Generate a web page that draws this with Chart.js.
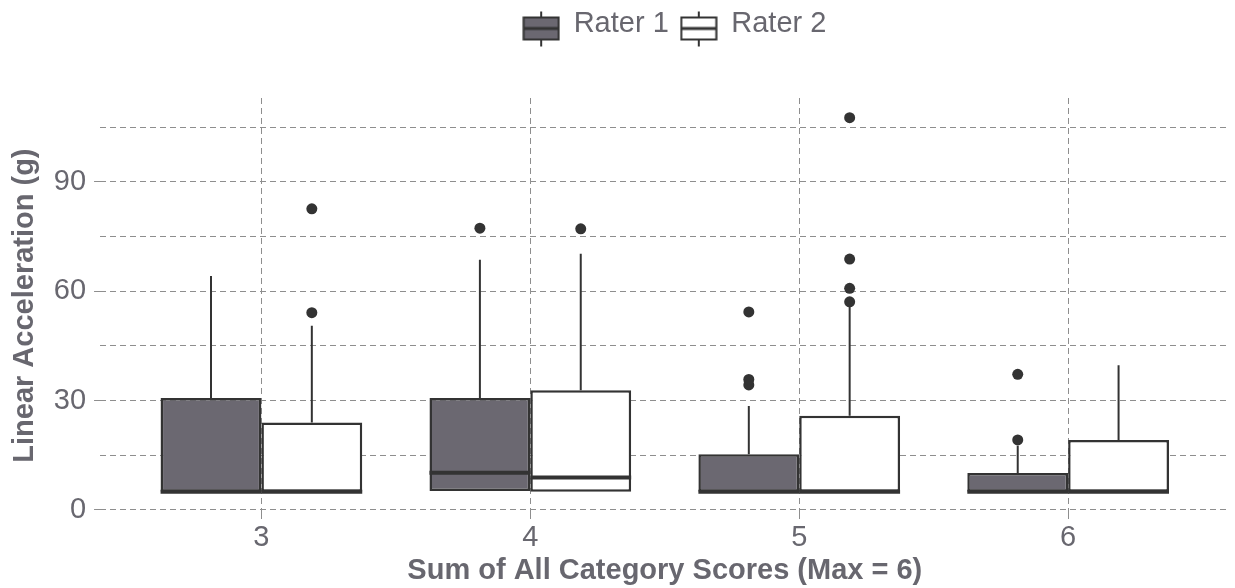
<!DOCTYPE html>
<html>
<head>
<meta charset="utf-8">
<script src="https://cdn.jsdelivr.net/npm/chart.js@4.4.1/dist/chart.umd.min.js"></script>
<style>
  html, body { margin: 0; padding: 0; background: #fff; }
  #wrap { width: 1235px; height: 588px; }
</style>
</head>
<body>
<div id="wrap"><canvas id="boxChart"></canvas></div>
<script>
// x categories (sum of category scores) and y grid ticks
const categories = [3, 4, 5, 6];
const yTicks = [0, 15, 30, 45, 60, 75, 90, 105];
const seriesNames = ["Rater 1", "Rater 2"];

// Rater 1 box stats, one entry per category
const r1Q1 = [5, 5.2, 5, 5];
const r1Median = [5, 10.2, 5, 5];
const r1Q3 = [30.7, 30.7, 15.3, 10.1];
const r1Upper = [64.2, 68.6, 28.5, 17.6];
const r1Outliers = [[], [77.3], [34.3, 35.8, 54.3], [19.2, 37.2]];

// Rater 2 box stats
const r2Q1 = [5, 5, 5, 5];
const r2Median = [5, 8.9, 5, 5];
const r2Q3 = [24.0, 32.8, 25.8, 19.2];
const r2Upper = [50.5, 70.3, 56.9, 39.7];
const r2Outliers = [[54.1, 82.6], [77.1], [57.1, 60.8, 68.8, 107.6], []];

const textColor = "#68676f";
const lineColor = "#333333";
const gridColor = "#8e8e8e";
const fills = ["#6b6871", "#ffffff"];
const boxW = 0.375;          // dodged box width in x units
const shifts = [-boxW / 2, boxW / 2];
const fontSize = 29;

Chart.defaults.font.family = "'Liberation Sans', Arial, sans-serif";
Chart.defaults.color = textColor;

function boxData(q1, q3) {
    return categories.map((c, i) => ({ x: c, y: [q1[i], q3[i]] }));
}

function whiskerData(q3, upper, shift) {
    const pts = [];
    categories.forEach((c, i) => {
        pts.push({ x: c + shift, y: q3[i] }, { x: c + shift, y: upper[i] }, { x: c + shift, y: null });
    });
    return pts;
}

function medianData(med, shift) {
    const pts = [];
    categories.forEach((c, i) => {
        pts.push({ x: c + shift - boxW / 2, y: med[i] }, { x: c + shift + boxW / 2, y: med[i] }, { x: c, y: null });
    });
    return pts;
}

function outlierData(outs, shift) {
    const pts = [];
    categories.forEach((c, i) => outs[i].forEach(v => pts.push({ x: c + shift, y: v })));
    return pts;
}

// small boxplot glyph for the legend keys
function makeKey(fill) {
    const c = document.createElement("canvas");
    c.width = 38;
    c.height = 50;
    const g = c.getContext("2d");
    const cy = 30;
    g.strokeStyle = lineColor;
    g.lineWidth = 2;
    g.beginPath();
    g.moveTo(19, cy - 17); g.lineTo(19, cy - 11);
    g.moveTo(19, cy + 11); g.lineTo(19, cy + 18);
    g.stroke();
    g.fillStyle = fill;
    g.fillRect(1, cy - 11, 36, 22);
    g.strokeRect(1.5, cy - 11, 35, 22);
    g.lineWidth = 3;
    g.beginPath();
    g.moveTo(1, cy); g.lineTo(37, cy);
    g.stroke();
    return c;
}
const keys = fills.map(makeKey);

// extra room under the legend, and nudge it right like the original
const legendMargin = {
    id: "legendMargin",
    beforeInit(chart) {
        const fit = chart.legend.fit;
        chart.legend.fit = function () {
            fit.bind(chart.legend)();
            this.height += 50;
        };
    },
    afterLayout(chart) {
        chart.legend.left += 20;
    }
};

const lineDs = (data, width) => ({
    type: "line",
    data,
    borderColor: lineColor,
    borderWidth: width,
    borderCapStyle: "butt",
    pointRadius: 0,
    spanGaps: false,
    order: 1
});

const ctx = document.getElementById("boxChart").getContext("2d");
new Chart(ctx, {
    type: "bar",
    data: {
        datasets: [
            {
                label: seriesNames[0],
                data: boxData(r1Q1, r1Q3),
                backgroundColor: fills[0],
                borderColor: lineColor,
                borderWidth: 2.5,
                borderSkipped: false,
                categoryPercentage: 0.75,
                barPercentage: 1,
                order: 3
            },
            {
                label: seriesNames[1],
                data: boxData(r2Q1, r2Q3),
                backgroundColor: fills[1],
                borderColor: lineColor,
                borderWidth: 2.5,
                borderSkipped: false,
                categoryPercentage: 0.75,
                barPercentage: 1,
                order: 3
            },
            lineDs(whiskerData(r1Q3, r1Upper, shifts[0]), 2),
            lineDs(whiskerData(r2Q3, r2Upper, shifts[1]), 2),
            lineDs(medianData(r1Median, shifts[0]), 4),
            lineDs(medianData(r2Median, shifts[1]), 4),
            {
                type: "scatter",
                data: outlierData(r1Outliers, shifts[0]).concat(outlierData(r2Outliers, shifts[1])),
                backgroundColor: lineColor,
                borderWidth: 0,
                pointRadius: 5.5,
                order: 0
            }
        ]
    },
    options: {
        responsive: true,
        maintainAspectRatio: false,
        animation: false,
        layout: { padding: { top: -3, left: 2, right: 5, bottom: 1 } },
        plugins: {
            tooltip: { enabled: false },
            legend: {
                position: "top",
                fullSize: false,
                labels: {
                    usePointStyle: true,
                    pointStyleWidth: 36,
                    padding: 12,
                    color: textColor,
                    font: { size: fontSize },
                    generateLabels: () => seriesNames.map((name, i) => ({
                        text: name,
                        fontColor: textColor,
                        pointStyle: keys[i],
                        fillStyle: fills[i],
                        strokeStyle: lineColor,
                        lineWidth: 0,
                        hidden: false,
                        datasetIndex: i
                    }))
                }
            }
        },
        scales: {
            x: {
                type: "linear",
                min: 2.4,
                max: 6.6,
                offset: false,
                afterBuildTicks: scale => { scale.ticks = categories.map(v => ({ value: v })); },
                ticks: { font: { size: fontSize }, padding: 1, autoSkip: false, maxRotation: 0 },
                grid: { offset: false, color: gridColor, tickColor: gridColor, tickLength: 6, tickBorderDash: [6, 4] },
                border: { display: false, dash: [6, 4] },
                title: {
                    display: true,
                    text: "Sum of All Category Scores (Max = 6)",
                    font: { size: fontSize, weight: "bold", lineHeight: 1 },
                    padding: { top: 0, bottom: 2 }
                }
            },
            y: {
                min: -0.9,
                max: 113,
                afterBuildTicks: scale => { scale.ticks = yTicks.map(v => ({ value: v })); },
                ticks: {
                    font: { size: fontSize },
                    padding: 8,
                    autoSkip: false,
                    callback: v => (v % 30 === 0 ? v : "")
                },
                grid: {
                    color: gridColor,
                    tickLength: 6,
                    tickBorderDash: [6, 4],
                    tickColor: c => (c.tick && c.tick.value % 30 === 0 ? gridColor : "rgba(0,0,0,0)")
                },
                border: { display: false, dash: [6, 4] },
                title: {
                    display: true,
                    text: "Linear Acceleration (g)",
                    font: { size: fontSize, weight: "bold" },
                    padding: { top: 6, bottom: 3 }
                }
            }
        }
    },
    plugins: [legendMargin]
});
</script>
</body>
</html>
